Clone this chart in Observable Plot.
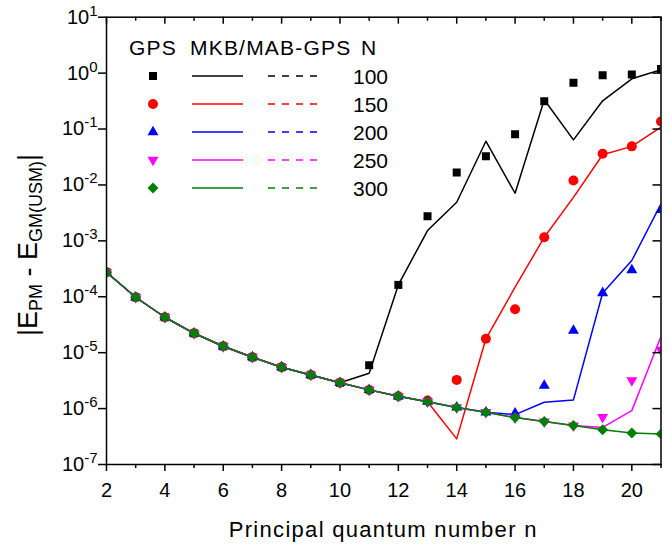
<!DOCTYPE html>
<html><head><meta charset="utf-8">
<script src="https://cdn.jsdelivr.net/npm/d3@7"></script>
<script src="https://cdn.jsdelivr.net/npm/@observablehq/plot@0.6"></script>
<style>body{margin:0;background:#fff}#chart svg{display:block}</style>
</head><body><div id="chart"></div>
<script>
// ---------- data ----------
const n = [2,3,4,5,6,7,8,9,10,11,12,13,14,15,16,17,18,19,20,21];

const gps100 = [2.74e-4,9.8e-5,4.3e-5,2.22e-5,1.3e-5,8.3e-6,5.5e-6,4.0e-6,2.9e-6,5.96e-6,1.63e-4,2.75e-3,1.67e-2,3.26e-2,8.07e-2,0.314,0.67,0.92,0.94,1.19];
const mab100 = [2.74e-4,9.8e-5,4.3e-5,2.22e-5,1.3e-5,8.3e-6,5.5e-6,4.0e-6,2.9e-6,4.3e-6,1.63e-4,1.53e-3,4.9e-3,6.05e-2,7.1e-3,0.333,6.4e-2,0.32,0.79,1.15];

const gps150 = [2.74e-4,9.8e-5,4.3e-5,2.22e-5,1.3e-5,8.3e-6,5.5e-6,4.0e-6,2.9e-6,2.16e-6,1.66e-6,1.4e-6,3.26e-6,1.77e-5,5.98e-5,1.16e-3,1.2e-2,3.6e-2,4.9e-2,0.136];
const mab150 = [2.74e-4,9.8e-5,4.3e-5,2.22e-5,1.3e-5,8.3e-6,5.5e-6,4.0e-6,2.9e-6,2.16e-6,1.66e-6,1.33e-6,2.87e-7,1.77e-5,1.48e-4,1.16e-3,6.0e-3,3.47e-2,4.9e-2,0.108];

const gps200 = [2.74e-4,9.8e-5,4.3e-5,2.22e-5,1.3e-5,8.3e-6,5.5e-6,4.0e-6,2.9e-6,2.16e-6,1.66e-6,1.33e-6,1.05e-6,8.6e-7,8.2e-7,2.58e-6,2.48e-5,1.17e-4,3.0e-4,3.6e-3];
const mab200 = [2.74e-4,9.8e-5,4.3e-5,2.22e-5,1.3e-5,8.3e-6,5.5e-6,4.0e-6,2.9e-6,2.16e-6,1.66e-6,1.33e-6,1.05e-6,8.6e-7,7.8e-7,1.3e-6,1.43e-6,1.17e-4,4.45e-4,4.6e-3];

const gps250 = [2.74e-4,9.8e-5,4.3e-5,2.22e-5,1.3e-5,8.3e-6,5.5e-6,4.0e-6,2.9e-6,2.16e-6,1.66e-6,1.33e-6,1.05e-6,8.6e-7,6.9e-7,5.85e-7,4.96e-7,7.0e-7,3.2e-6,1.12e-5];
const mab250 = [2.74e-4,9.8e-5,4.3e-5,2.22e-5,1.3e-5,8.3e-6,5.5e-6,4.0e-6,2.9e-6,2.16e-6,1.66e-6,1.33e-6,1.05e-6,8.6e-7,6.9e-7,5.85e-7,4.96e-7,4.6e-7,9.2e-7,1.95e-5];

const gps300 = [2.74e-4,9.8e-5,4.3e-5,2.22e-5,1.3e-5,8.3e-6,5.5e-6,4.0e-6,2.9e-6,2.16e-6,1.66e-6,1.33e-6,1.05e-6,8.6e-7,6.9e-7,5.85e-7,4.96e-7,4.2e-7,3.65e-7,3.5e-7];
const mab300 = [2.74e-4,9.8e-5,4.3e-5,2.22e-5,1.3e-5,8.3e-6,5.5e-6,4.0e-6,2.9e-6,2.16e-6,1.66e-6,1.33e-6,1.05e-6,8.6e-7,6.9e-7,5.85e-7,4.96e-7,4.2e-7,3.65e-7,3.5e-7];

const seriesN = [100,150,200,250,300];
const colors = ["#000000","#ff0000","#0000ff","#ff00ff","#008000"];
const gpsSeries = [gps100,gps150,gps200,gps250,gps300];
const mabSeries = [mab100,mab150,mab200,mab250,mab300];

const xMajorTicks = [2,4,6,8,10,12,14,16,18,20];
const xMinorTicks = [3,5,7,9,11,13,15,17,19,21];
const yTicks = [1e-7,1e-6,1e-5,1e-4,1e-3,1e-2,1e-1,1e0,1e1];

const legendHeader = ["GPS","MKB/MAB-GPS","N"];
const xLabel = "Principal quantum number n";

// ---------- symbols ----------
const symSquare = {draw(c){c.rect(-4,-4,8,8);}};
const symCircle = {draw(c){c.moveTo(5,0);c.arc(0,0,5,0,2*Math.PI);}};
const symTriUp = {draw(c){const s=11,h=s*Math.sqrt(3)/2;c.moveTo(0,-h*2/3);c.lineTo(s/2,h/3);c.lineTo(-s/2,h/3);c.closePath();}};
const symTriDown = {draw(c){const s=11,h=s*Math.sqrt(3)/2;c.moveTo(0,h*2/3);c.lineTo(s/2,-h/3);c.lineTo(-s/2,-h/3);c.closePath();}};
const symDiamond = {draw(c){c.moveTo(0,-5.5);c.lineTo(5.5,0);c.lineTo(0,5.5);c.lineTo(-5.5,0);c.closePath();}};
const symbols = [symSquare,symCircle,symTriUp,symTriDown,symDiamond];

// ---------- layout ----------
const W = 671, H = 545;
const mL = 106, mR = 10.5, mT = 16.7, mB = 81;
const pw = W - mL - mR, ph = H - mT - mB;
const FONT = "'Liberation Sans', Arial, Helvetica, sans-serif";

const marks = [];
seriesN.forEach((N,i) => {
  const lineData = n.map((x,j) => ({n:x, v:mabSeries[i][j]}));
  const dotData = n.map((x,j) => ({n:x, v:gpsSeries[i][j]}));
  marks.push(Plot.line(lineData, {x:"n", y:"v", stroke:colors[i], strokeWidth:1.5, clip:true}));
  marks.push(Plot.dot(dotData, {x:"n", y:"v", fill:colors[i], stroke:"none", symbol:symbols[i], r:5, clip:true}));
});

const chart = Plot.plot({
  width: W, height: H,
  marginLeft: mL, marginRight: mR, marginTop: mT, marginBottom: mB,
  style: {fontFamily: FONT, fontSize: "20px", background: "#fff", color: "#000"},
  x: {domain: [2, 21], label: null},
  y: {type: "log", domain: [1e-7, 10], label: null},
  marks: [
    ...marks,
    // bottom axis (outward)
    Plot.axisX(xMajorTicks, {anchor:"bottom", tickSize:7, tickPadding:11, strokeWidth:1.5, fontSize:20, tickFormat:d=>String(d), label:null}),
    Plot.axisX(xMinorTicks, {anchor:"bottom", tickSize:4, strokeWidth:1.5, tickFormat:()=>"", label:null}),
    // left axis (outward)
    Plot.axisY(yTicks, {anchor:"left", tickSize:8, tickPadding:1, strokeWidth:1.5, fontSize:20, tickFormat:d=>String(Math.round(Math.log10(d))), label:null}),
    // top axis ticks (inward)
    Plot.ruleX(xMajorTicks, {x:d=>d, insetBottom: ph - 7, stroke:"#000", strokeWidth:1.5}),
    Plot.ruleX(xMinorTicks, {x:d=>d, insetBottom: ph - 4, stroke:"#000", strokeWidth:1.5}),
    // right axis ticks (inward)
    Plot.ruleY(yTicks, {y:d=>d, insetLeft: pw - 8, stroke:"#000", strokeWidth:1.5}),
    Plot.frame({stroke:"#000", strokeWidth:1.5})
  ]
});

document.getElementById("chart").appendChild(chart);

const svg = d3.select(chart);
// superscript exponents on y tick labels
svg.selectAll('g[aria-label="y-axis tick label"] text').each(function(){
  const e = this.textContent.replace("\u2212", "-");
  const t = d3.select(this);
  t.text("10");
  t.append("tspan").attr("dy", -8).attr("font-size", 15).text(e);
});

// y axis label
const yl = svg.append("text")
  .attr("transform", "rotate(-90)")
  .attr("x", -245).attr("y", 37)
  .attr("text-anchor", "middle")
  .attr("font-family", FONT).attr("font-size", 27).attr("fill", "#000");
yl.append("tspan").text("|E");
yl.append("tspan").attr("font-size", 18).attr("dy", 5).text("PM");
yl.append("tspan").attr("dy", -5).text(" - E");
yl.append("tspan").attr("font-size", 18).attr("dy", 5).text("GM(USM)");
yl.append("tspan").attr("dy", -5).text("|");

// x axis label
svg.append("text")
  .attr("x", mL + pw/2).attr("y", 537)
  .attr("text-anchor", "middle")
  .attr("font-family", FONT).attr("font-size", 22).attr("letter-spacing", 1.3).attr("fill", "#000")
  .text(xLabel);

// legend
const lg = svg.append("g").attr("font-family", FONT).attr("font-size", 21).attr("fill", "#000").attr("text-anchor", "start");
const hdrX = [129, 190, 361];
legendHeader.forEach((h,i) => lg.append("text").attr("x", hdrX[i]).attr("y", 55).attr("text-anchor", "start").attr("letter-spacing", 1.2).text(h));
seriesN.forEach((N,i) => {
  const cy = 76 + 28*i;
  lg.append("path").attr("transform", `translate(153,${cy})`).attr("d", d3.symbol(symbols[i])()).attr("fill", colors[i]);
  lg.append("line").attr("x1",192).attr("x2",243).attr("y1",cy).attr("y2",cy).attr("stroke",colors[i]).attr("stroke-width",1.5);
  lg.append("line").attr("x1",268).attr("x2",320).attr("y1",cy).attr("y2",cy).attr("stroke",colors[i]).attr("stroke-width",1.5).attr("stroke-dasharray","7,7");
  lg.append("text").attr("x",388).attr("y",cy+7.5).attr("text-anchor","end").text(String(N));
});
</script>
</body></html>
